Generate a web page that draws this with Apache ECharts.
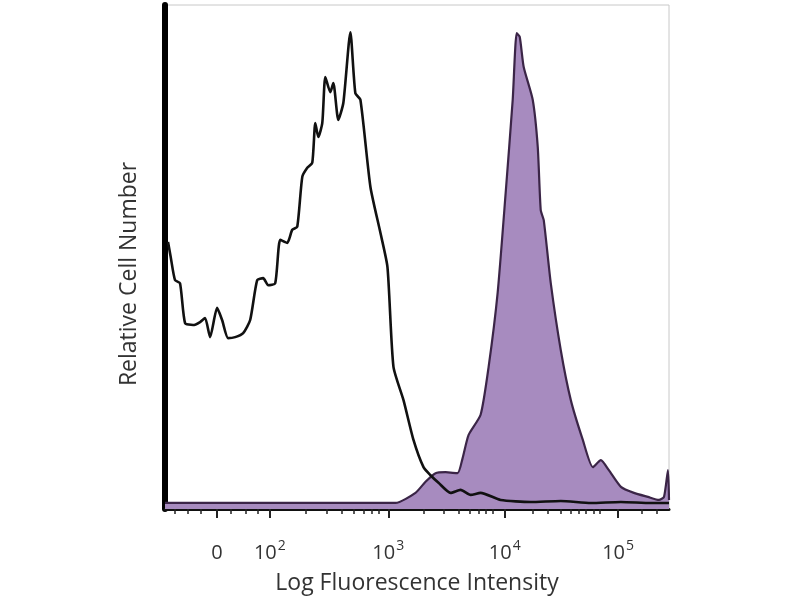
<!DOCTYPE html>
<html>
<head>
<meta charset="utf-8">
<script src="https://cdn.jsdelivr.net/npm/echarts@6/dist/echarts.min.js"></script>
<style>html,body{margin:0;padding:0;background:#fff}#c{width:800px;height:600px}</style>
</head>
<body>
<div id="c"></div>
<script>
// x in display channels (0..1000), y in relative % of max
const blackX = [6, 11.3, 19.9, 29.8, 39.8, 55.7, 69.6, 79.5, 89.5, 103.4, 113.3, 125.2, 139.2, 155.1, 169.0, 182.9, 194.8, 204.8, 218.7, 228.6, 242.5, 252.5, 262.4, 272.4, 282.3, 292.2, 298.2, 304.2, 312.1, 318.1, 328.0, 334.0, 343.9, 353.9, 367.8, 377.7, 387.7, 407.6, 427.4, 441.4, 453.3, 473.2, 493.0, 512.9, 526.8, 542.7, 566.6, 586.5, 606.4, 626.2, 666.0, 725.6, 785.3, 845.0, 904.6, 964.2, 1000];
const blackY = [53, 50.0, 45.4, 44.8, 36.9, 36.5, 37.1, 37.9, 34.1, 39.9, 37.5, 33.9, 34.1, 34.9, 37.5, 45.4, 45.8, 44.4, 44.8, 53.4, 52.8, 55.4, 56.0, 65.9, 67.7, 68.7, 76.6, 73.8, 76.6, 85.7, 82.7, 84.5, 77.2, 80.6, 94.6, 82.5, 81.2, 63.9, 54.8, 48.0, 28.2, 21.6, 13.7, 8.3, 6.7, 5.2, 3.2, 3.8, 2.8, 3.2, 1.8, 1.4, 1.6, 1.2, 1.4, 1.2, 1.2];

const purpleX = [0, 200, 457.3, 497.0, 516.9, 536.8, 556.7, 580.5, 590.5, 602.4, 626.2, 642.1, 660.0, 675.9, 689.9, 697.8, 703.8, 711.7, 729.6, 739.6, 745.5, 751.5, 765.4, 785.3, 805.2, 829.0, 848.9, 864.8, 880.7, 904.6, 930.4, 958.2, 980.1, 990.1, 998.0, 1000];
const purpleY = [1.2, 1.2, 1.2, 3.2, 5.4, 7.1, 7.3, 7.1, 10.1, 14.7, 18.7, 28.2, 42.9, 62.7, 81.2, 94.4, 93.7, 87.7, 81.2, 71.8, 59.3, 57.3, 44.8, 31.5, 21.6, 13.7, 8.3, 9.7, 7.7, 4.4, 3.2, 2.4, 1.8, 2.4, 7.7, 1.8];

const tickPos = [103, 208, 443, 674, 899];
const tickBase = ['0', '10', '10', '10', '10'];
const tickExp = ['', '2', '3', '4', '5'];
const minorTickPos = [20, 45, 70, 130, 160, 185, 280, 320, 350, 375, 395, 410, 425, 513, 553, 582, 604, 622, 637, 651, 730, 760, 785, 805, 820, 835, 850, 862, 945, 975];

const chart = echarts.init(document.getElementById('c'), null, {renderer: 'canvas'});
const font = '"Open Sans", "DejaVu Sans", sans-serif';
const labelMap = {};
tickPos.forEach((p, i) => labelMap[p] = tickExp[i] ? '{b|' + tickBase[i] + '}{sup|' + tickExp[i] + '}' : '{b|' + tickBase[i] + '}');

chart.setOption({
  animation: false,
  backgroundColor: '#fff',
  grid: {left: 165, right: 131, top: 5, bottom: 91, show: true, borderColor: '#c8c8c8', borderWidth: 1},
  xAxis: [{
    type: 'value', min: 0, max: 1000,
    name: 'Log Fluorescence Intensity', nameLocation: 'middle', nameGap: 63,
    nameTextStyle: {fontFamily: font, fontSize: 23, color: '#333'},
    axisLine: {show: true, lineStyle: {color: '#111', width: 3}},
    axisTick: {show: true, customValues: minorTickPos, length: 5, lineStyle: {color: '#222', width: 1.5}},
    axisLabel: {show: true, customValues: tickPos, margin: 26, fontFamily: font, fontSize: 20, color: '#333',
      rich: {
        b: {fontFamily: font, fontSize: 20, color: '#333', lineHeight: 28, padding: [8, 0, 0, 0]},
        sup: {fontFamily: font, fontSize: 14, color: '#333', lineHeight: 28, padding: [0, 0, 6, 1]}
      },
      formatter: v => labelMap[v] || ''},
    splitLine: {show: false}
  }, {
    type: 'value', min: 0, max: 1000, position: 'bottom',
    axisLine: {show: false},
    axisTick: {show: true, customValues: tickPos, length: 9, lineStyle: {color: '#222', width: 2}},
    axisLabel: {show: false},
    splitLine: {show: false}
  }],
  yAxis: {
    type: 'value', min: 0, max: 100,
    name: 'Relative Cell Number', nameLocation: 'middle', nameGap: 24,
    nameTextStyle: {fontFamily: font, fontSize: 23, color: '#333', padding: [0, 34, 0, 0]},
    axisLine: {show: true, lineStyle: {color: '#000', width: 6}},
    axisTick: {show: false}, axisLabel: {show: false}, splitLine: {show: false}
  },
  series: [{
    type: 'line', name: 'stained', xAxisIndex: 0,
    data: purpleX.map((x, i) => [x, purpleY[i]]),
    showSymbol: false, smooth: 0.2,
    lineStyle: {color: '#3b2547', width: 2.2},
    areaStyle: {color: '#a78bbf', opacity: 1},
    z: 2
  }, {
    type: 'line', name: 'control', xAxisIndex: 0,
    data: blackX.map((x, i) => [x, blackY[i]]),
    showSymbol: false, smooth: 0.2,
    lineStyle: {color: '#111', width: 2.6},
    z: 3
  }]
});
</script>
</body>
</html>
